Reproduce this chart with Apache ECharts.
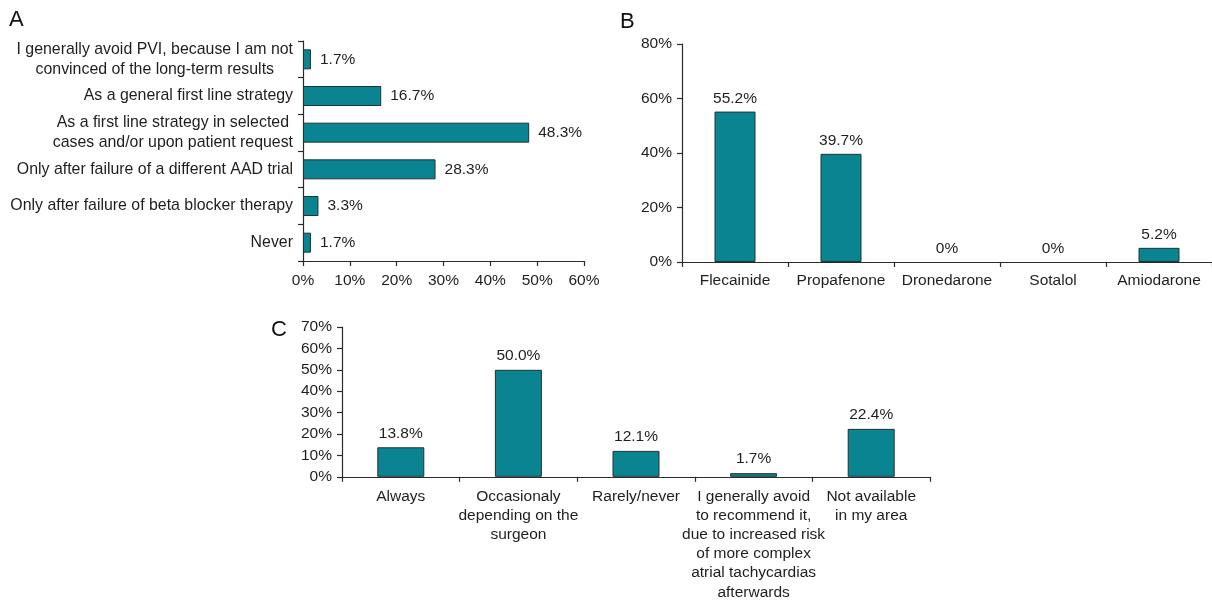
<!DOCTYPE html>
<html>
<head>
<meta charset="utf-8">
<script src="https://cdn.jsdelivr.net/npm/echarts@6/dist/echarts.min.js"></script>
<style>
html,body{margin:0;padding:0;background:#fff;}
#chart{width:1212px;height:602px;}
</style>
</head>
<body>
<div id="chart"></div>
<script>
// Panel A
var catsA = [
  "I generally avoid PVI, because I am not\nconvinced of the long-term results",
  "As a general first line strategy",
  "As a first line strategy in selected\ncases and/or upon patient request",
  "Only after failure of a different AAD trial",
  "Only after failure of beta blocker therapy",
  "Never"
];
var valsA = [1.7, 16.7, 48.3, 28.3, 3.3, 1.7];
var ticksA = {min: 0, max: 60, interval: 10};

// Panel B
var catsB = ["Flecainide", "Propafenone", "Dronedarone", "Sotalol", "Amiodarone"];
var valsB = [55.2, 39.7, 0, 0, 5.2];
var ticksB = {min: 0, max: 80, interval: 20};

// Panel C
var catsC = [
  "Always",
  "Occasionaly\ndepending on the\nsurgeon",
  "Rarely/never",
  "I generally avoid\nto recommend it,\ndue to increased risk\nof more complex\natrial tachycardias\nafterwards",
  "Not available\nin my area"
];
var valsC = [13.8, 50.0, 12.1, 1.7, 22.4];
var ticksC = {min: 0, max: 70, interval: 10};

var FONT = "'Liberation Sans', Arial, sans-serif";
var TXT = '#1e1e1e';
var FS = 15.5;
var BAR = '#0a8491';
var BORDER = '#1f3436';
var AX = '#2a2a2a';

function pct1(p){ return p.value.toFixed(1) + '%'; }
function pctB(p){ return p.value === 0 ? '0%' : p.value.toFixed(1) + '%'; }

var axLine = {show: true, lineStyle: {color: AX, width: 1.2}};
var axTick = {show: true, length: 5, lineStyle: {color: AX, width: 1.2}};
var axLbl = {color: TXT, fontSize: FS, fontFamily: FONT};

var dataB = valsB.map(function(v){
  return v === 0 ? {value: v, itemStyle: {borderWidth: 0, opacity: 0}} : v;
});

var chart = echarts.init(document.getElementById('chart'), null, {renderer: 'canvas'});
chart.setOption({
  backgroundColor: '#fff',
  animation: false,
  textStyle: {fontFamily: FONT},
  grid: [
    {left: 303, top: 41, width: 281, height: 220},
    {left: 682, top: 44, width: 540, height: 218},
    {left: 342, top: 327, width: 588, height: 155}
  ],
  xAxis: [
    {gridIndex: 0, type: 'value', min: ticksA.min, max: ticksA.max, interval: ticksA.interval,
     splitLine: {show: false}, axisLine: axLine, axisTick: axTick,
     axisLabel: Object.assign({}, axLbl, {formatter: '{value}%', margin: 12})},
    {gridIndex: 1, type: 'category', data: catsB,
     axisLine: axLine, axisTick: axTick,
     axisLabel: Object.assign({}, axLbl, {margin: 11, interval: 0})},
    {gridIndex: 2, type: 'category', data: catsC,
     axisLine: axLine, axisTick: axTick,
     axisLabel: Object.assign({}, axLbl, {margin: 10, interval: 0, lineHeight: 19.2})}
  ],
  yAxis: [
    {gridIndex: 0, type: 'category', data: catsA, inverse: true,
     axisLine: axLine, axisTick: axTick,
     axisLabel: Object.assign({}, axLbl, {margin: 10, interval: 0,
       formatter: function(v){ return '{c|' + v + '}'; },
       rich: {c: {align: 'center', color: TXT, fontSize: 15.9, fontFamily: FONT, lineHeight: 20}}})},
    {gridIndex: 1, type: 'value', min: ticksB.min, max: ticksB.max, interval: ticksB.interval,
     splitLine: {show: false}, axisLine: axLine, axisTick: axTick,
     axisLabel: Object.assign({}, axLbl, {formatter: '{value}%', margin: 10})},
    {gridIndex: 2, type: 'value', min: ticksC.min, max: ticksC.max, interval: ticksC.interval,
     splitLine: {show: false}, axisLine: axLine, axisTick: axTick,
     axisLabel: Object.assign({}, axLbl, {formatter: '{value}%', margin: 10})}
  ],
  series: [
    {type: 'bar', xAxisIndex: 0, yAxisIndex: 0, data: valsA, barWidth: 20,
     itemStyle: {color: BAR, borderColor: BORDER, borderWidth: 1},
     label: {show: true, position: 'right', distance: 9, formatter: pct1, color: TXT, fontSize: FS, fontFamily: FONT}},
    {type: 'bar', xAxisIndex: 1, yAxisIndex: 1, data: dataB, barWidth: 41,
     itemStyle: {color: BAR, borderColor: BORDER, borderWidth: 1},
     label: {show: true, position: 'top', distance: 5, formatter: pctB, color: TXT, fontSize: FS, fontFamily: FONT, opacity: 1}},
    {type: 'bar', xAxisIndex: 2, yAxisIndex: 2, data: valsC, barWidth: 47,
     itemStyle: {color: BAR, borderColor: BORDER, borderWidth: 1},
     label: {show: true, position: 'top', distance: 6, formatter: pct1, color: TXT, fontSize: FS, fontFamily: FONT}}
  ],
  graphic: [
    {type: 'text', left: 9, top: 9, style: {text: 'A', font: '22px ' + FONT, fill: '#111'}},
    {type: 'text', left: 620, top: 11, style: {text: 'B', font: '22px ' + FONT, fill: '#111'}},
    {type: 'text', left: 271, top: 319, style: {text: 'C', font: '22px ' + FONT, fill: '#111'}}
  ]
});
</script>
</body>
</html>
